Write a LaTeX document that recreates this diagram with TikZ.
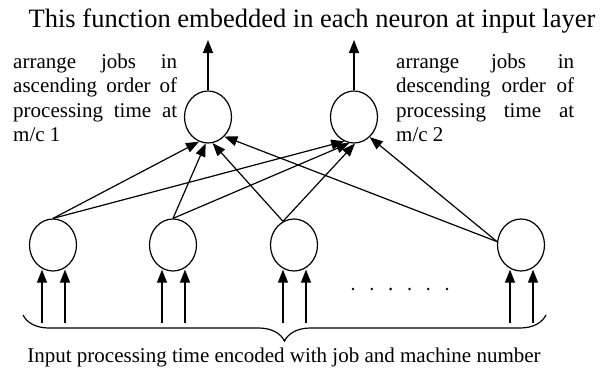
\documentclass[tikz,border=0pt]{standalone}
\usepackage{fontspec}
\setmainfont{Liberation Serif}
\usetikzlibrary{arrows.meta,positioning,shapes.geometric,decorations.pathreplacing}

\begin{document}
\begin{tikzpicture}[x=1pt, y=-1pt,
  neuron/.style={ellipse, draw, line width=1.2pt, minimum width=47pt, minimum height=52pt, inner sep=0pt},
  link/.style={draw, ->, line width=1.2pt},
  note/.style={inner sep=0pt, align=justify, font=\fontsize{21}{24.5}\selectfont,
    execute at begin node={\hyphenpenalty=10000 \tolerance=10000}},
  >={Triangle[length=13pt,width=10pt]}
]
  \useasboundingbox (0,0) rectangle (615,367);

  \node[anchor=base, inner sep=0pt, font=\fontsize{26.5}{30}\selectfont] (title) at (312,27)
    {This function embedded in each neuron at input layer};

  \node[neuron] (out1) at (208,117) {};
  \node[neuron] (out2) at (354,117) {};
  \coordinate (up1) at (208,40);
  \coordinate (up2) at (354,40);
  \draw[link] (out1.north) -- (up1);
  \draw[link] (out2.north) -- (up2);

  \node[note, text width=164pt, anchor=base west] (asc) at (13,68)
    {arrange jobs in\linebreak ascending order of\linebreak processing time at\linebreak m/c 1};
  \node[note, text width=178pt, anchor=base west] (desc) at (396,68)
    {arrange jobs in\linebreak descending order of\linebreak processing time at\linebreak m/c 2};

  \foreach \n/\x in {1/53,2/173,3/294,4/521}{
    \node[neuron] (in\n) at (\x,245) {};
    \coordinate (in\n a) at (\x-11,323);
    \coordinate (in\n b) at (\x+12,323);
    \draw[link, shorten >=-2pt] (in\n a) -- (in\n a |- in\n.south);
    \draw[link, shorten >=-2pt] (in\n b) -- (in\n b |- in\n.south);
  }

  \draw[link] (in1.north) -- (out1.-110);
  \draw[link] (in1.north) -- (out2.-112);
  \draw[link] (in2.north) -- (out1.-95);
  \draw[link] (in2.north) -- (out2.-100);
  \draw[link] (in3.115) -- (out1.-80);
  \draw[link] (in3.115) -- (out2.-88);
  \draw[link] (in4.172) -- (out1.-50);
  \draw[link] (in4.172) -- (out2.-52);

  \foreach \i in {0,...,5}
    \fill (353+18.8*\i,289) circle (1.4pt);

  \coordinate (brl) at (23,315);
  \coordinate (brr) at (546,315);
  \draw[decorate, decoration={brace, mirror, amplitude=26pt}, line width=1.2pt] (brl) -- (brr);

  \node[anchor=base, inner sep=0pt, font=\fontsize{21}{24}\selectfont] (caption) at (284,362)
    {Input processing time encoded with job and machine number};
\end{tikzpicture}
\end{document}
